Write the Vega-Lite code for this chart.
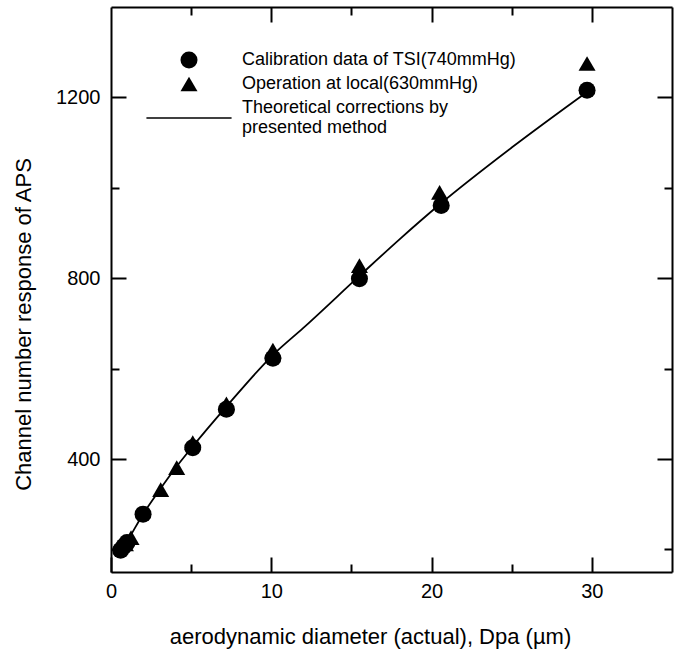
{
  "$schema": "https://vega.github.io/schema/vega-lite/v6.json",
  "width": 561,
  "height": 565,
  "autosize": {"type": "none"},
  "padding": {"left": 111, "top": 7, "right": 6, "bottom": 79},
  "background": "white",
  "view": {"stroke": null},
  "config": {
    "font": "Liberation Sans",
    "axis": {
      "domainColor": "black", "domainWidth": 2, "tickColor": "black", "tickWidth": 2,
      "labelColor": "black", "titleColor": "black", "labelFont": "Liberation Sans", "titleFont": "Liberation Sans",
      "titleFontWeight": "normal", "labelFontSize": 20, "titleFontSize": 22, "grid": false, "labelFlush": false
    },
    "legend": {"labelFont": "Liberation Sans"}
  },
  "datasets": {
    "points": [
      {"d": 0.6, "ch": 198, "series": "Calibration data of TSI(740mmHg)"},
      {"d": 0.8, "ch": 207, "series": "Calibration data of TSI(740mmHg)"},
      {"d": 1.0, "ch": 215, "series": "Calibration data of TSI(740mmHg)"},
      {"d": 2.0, "ch": 278, "series": "Calibration data of TSI(740mmHg)"},
      {"d": 5.1, "ch": 425, "series": "Calibration data of TSI(740mmHg)"},
      {"d": 7.2, "ch": 510, "series": "Calibration data of TSI(740mmHg)"},
      {"d": 10.1, "ch": 623, "series": "Calibration data of TSI(740mmHg)"},
      {"d": 15.5, "ch": 799, "series": "Calibration data of TSI(740mmHg)"},
      {"d": 20.6, "ch": 961, "series": "Calibration data of TSI(740mmHg)"},
      {"d": 29.7, "ch": 1216, "series": "Calibration data of TSI(740mmHg)"},
      {"d": 0.9, "ch": 212, "series": "Operation at local(630mmHg)"},
      {"d": 1.25, "ch": 226, "series": "Operation at local(630mmHg)"},
      {"d": 3.1, "ch": 332, "series": "Operation at local(630mmHg)"},
      {"d": 4.1, "ch": 381, "series": "Operation at local(630mmHg)"},
      {"d": 5.1, "ch": 436, "series": "Operation at local(630mmHg)"},
      {"d": 7.2, "ch": 522, "series": "Operation at local(630mmHg)"},
      {"d": 10.1, "ch": 641, "series": "Operation at local(630mmHg)"},
      {"d": 15.5, "ch": 828, "series": "Operation at local(630mmHg)"},
      {"d": 20.5, "ch": 990, "series": "Operation at local(630mmHg)"},
      {"d": 29.7, "ch": 1275, "series": "Operation at local(630mmHg)"}
    ],
    "curve": [
      {"d": 0.6, "ch": 197}, {"d": 1.0, "ch": 218}, {"d": 2.0, "ch": 278}, {"d": 3.0, "ch": 330},
      {"d": 4.0, "ch": 379}, {"d": 5.1, "ch": 428}, {"d": 7.2, "ch": 516}, {"d": 10.1, "ch": 630},
      {"d": 12.0, "ch": 690}, {"d": 15.5, "ch": 805}, {"d": 18.0, "ch": 886}, {"d": 20.5, "ch": 963},
      {"d": 25.0, "ch": 1089}, {"d": 29.7, "ch": 1212}
    ]
  },
  "layer": [
    {
      "data": {"name": "curve"},
      "mark": {"type": "line", "color": "black", "strokeWidth": 1.8, "interpolate": "monotone"},
      "encoding": {
        "x": {
          "field": "d", "type": "quantitative",
          "scale": {"domain": [0, 35], "nice": false, "zero": false},
          "axis": {"orient": "bottom", "values": [0, 10, 20, 30], "tickSize": -15, "labelPadding": 24,
            "title": "aerodynamic diameter (actual), Dpa (µm)", "titleX": 259, "titleY": 64, "titleBaseline": "middle"}
        },
        "y": {
          "field": "ch", "type": "quantitative",
          "scale": {"domain": [150, 1400], "nice": false, "zero": false},
          "axis": {"orient": "left", "values": [400, 800, 1200], "format": "d", "tickSize": -15, "labelPadding": 26,
            "title": "Channel number response of APS", "titleX": -88, "titleY": 317, "titleBaseline": "middle"}
        }
      }
    },
    {
      "data": {"name": "points"},
      "transform": [{"filter": "datum.series === 'Calibration data of TSI(740mmHg)'"}],
      "mark": {"type": "point", "filled": true, "color": "black", "opacity": 1, "size": 290},
      "encoding": {
        "x": {"field": "d", "type": "quantitative",
          "axis": {"orient": "bottom", "values": [5, 15, 25], "tickSize": -8, "labels": false, "title": null, "domain": false}},
        "y": {"field": "ch", "type": "quantitative",
          "axis": {"orient": "left", "values": [200, 600, 1000], "tickSize": -8, "labels": false, "title": null, "domain": false}},
        "shape": {
          "field": "series", "type": "nominal",
          "scale": {"domain": ["Calibration data of TSI(740mmHg)", "Operation at local(630mmHg)", "Theoretical corrections by| presented method"],
            "range": ["circle", "triangle-up", "M-5,1.08L5,1.08L5,1.26L-5,1.26Z"]},
          "legend": {
            "title": null, "orient": "none", "legendX": 69, "legendY": 44, "padding": 0,
            "labelFontSize": 18, "labelLimit": 600, "labelOffset": 44, "rowPadding": 6,
            "symbolSize": 290, "symbolFillColor": "black", "symbolStrokeColor": "black", "symbolStrokeWidth": 0,
            "symbolOpacity": 1, "labelColor": "black",
            "labelExpr": "split(datum.label, '|')"
          }
        }
      }
    },
    {
      "data": {"name": "points"},
      "transform": [{"filter": "datum.series === 'Operation at local(630mmHg)'"}],
      "mark": {"type": "point", "filled": true, "color": "black", "opacity": 1, "size": 290},
      "encoding": {
        "x": {"field": "d", "type": "quantitative",
          "axis": {"orient": "top", "values": [5, 10, 15, 20, 25, 30], "labels": false, "title": null,
            "tickSize": {"condition": {"test": "datum.value % 10 === 0", "value": -15}, "value": -8}}},
        "y": {"field": "ch", "type": "quantitative",
          "axis": {"orient": "right", "values": [200, 400, 600, 800, 1000, 1200], "labels": false, "title": null,
            "tickSize": {"condition": {"test": "datum.value % 400 === 0", "value": -15}, "value": -8}}},
        "shape": {"field": "series", "type": "nominal"}
      }
    }
  ],
  "resolve": {"axis": {"x": "independent", "y": "independent"}}
}
